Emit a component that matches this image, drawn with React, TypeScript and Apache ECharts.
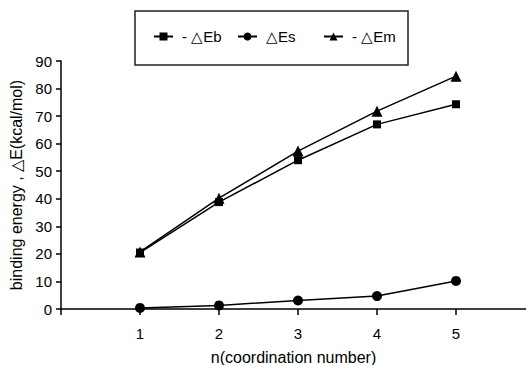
import React, { useEffect, useRef } from "react";
import * as echarts from "echarts";

const categories = [1, 2, 3, 4, 5];
const ebValues = [20.5, 38.8, 54.0, 67.0, 74.3];
const esValues = [0.4, 1.3, 3.1, 4.7, 10.2];
const emValues = [20.7, 40.2, 57.3, 71.8, 84.5];
const seriesNames = ["- △Eb", "△Es", "- △Em"];
const yTitle = "binding energy , △E(kcal/mol)";
const xTitle = "n(coordination number)";

const FONT = "'Liberation Sans', Arial, sans-serif";
const legendLefts = [153, 237, 323];

export default function App() {
  const ref = useRef<HTMLDivElement>(null);
  useEffect(() => {
    if (!ref.current) return;
    const chart = echarts.init(ref.current, null, { renderer: "svg" });
    const toPts = (vals: number[]) => categories.map((c, i) => [c, vals[i]]);
    const lineStyle = { color: "#000", width: 1.5 };
    chart.setOption({
      animation: false,
      backgroundColor: "#fff",
      textStyle: { fontFamily: FONT, color: "#000" },
      graphic: [
        {
          type: "rect",
          shape: { x: 135, y: 11, width: 273, height: 54 },
          style: { fill: "none", stroke: "#222", lineWidth: 1.5 },
          silent: true,
        },
      ],
      legend: seriesNames.map((n, i) => ({
        left: legendLefts[i],
        top: 29,
        padding: 0,
        itemWidth: 19,
        itemHeight: 10,
        textStyle: { fontFamily: FONT, fontSize: 15, color: "#000", padding: [0, 0, 0, 4] },
        data: [n],
      })),
      grid: {
        left: 61,
        top: 61,
        bottom: 56,
        right: 0,
        containLabel: false,
        outerBoundsMode: "none",
      },
      xAxis: {
        type: "value",
        min: 0,
        max: 5.886,
        interval: 1,
        name: xTitle,
        nameLocation: "middle",
        nameGap: 40,
        nameTextStyle: { fontFamily: FONT, fontSize: 16, color: "#000" },
        axisLine: { lineStyle: { color: "#000", width: 1.5 } },
        axisTick: { show: true, length: 6, lineStyle: { color: "#000", width: 1.5 } },
        axisLabel: {
          margin: 17,
          fontSize: 15,
          color: "#000",
          fontFamily: FONT,
          showMaxLabel: false,
          formatter: (v: number) => (v >= 1 && v <= 5 && Number.isInteger(v) ? String(v) : ""),
        },
        splitLine: { show: false },
      },
      yAxis: {
        type: "value",
        min: 0,
        max: 90,
        interval: 10,
        name: yTitle,
        nameLocation: "middle",
        nameGap: 30,
        nameTextStyle: { fontFamily: FONT, fontSize: 16, color: "#000" },
        axisLine: { show: true, lineStyle: { color: "#000", width: 1.5 } },
        axisTick: { show: true, length: 5, lineStyle: { color: "#000", width: 1.5 } },
        axisLabel: { margin: 9, fontSize: 15, color: "#000", fontFamily: FONT },
        splitLine: { show: false },
      },
      series: [
        {
          name: seriesNames[0],
          type: "line",
          data: toPts(ebValues),
          symbol: "rect",
          symbolSize: 8,
          itemStyle: { color: "#000" },
          lineStyle,
          z: 2,
        },
        {
          name: seriesNames[1],
          type: "line",
          data: toPts(esValues),
          symbol: "circle",
          symbolSize: 10,
          itemStyle: { color: "#000" },
          lineStyle,
          z: 2,
        },
        {
          name: seriesNames[2],
          type: "line",
          data: toPts(emValues),
          symbol: "triangle",
          symbolSize: 11,
          itemStyle: { color: "#000" },
          lineStyle,
          z: 3,
        },
      ],
    });
    return () => chart.dispose();
  }, []);
  return (
    <div
      ref={ref}
      style={{ position: "fixed", left: 0, top: 0, width: 526, height: 365, background: "#fff" }}
    />
  );
}
